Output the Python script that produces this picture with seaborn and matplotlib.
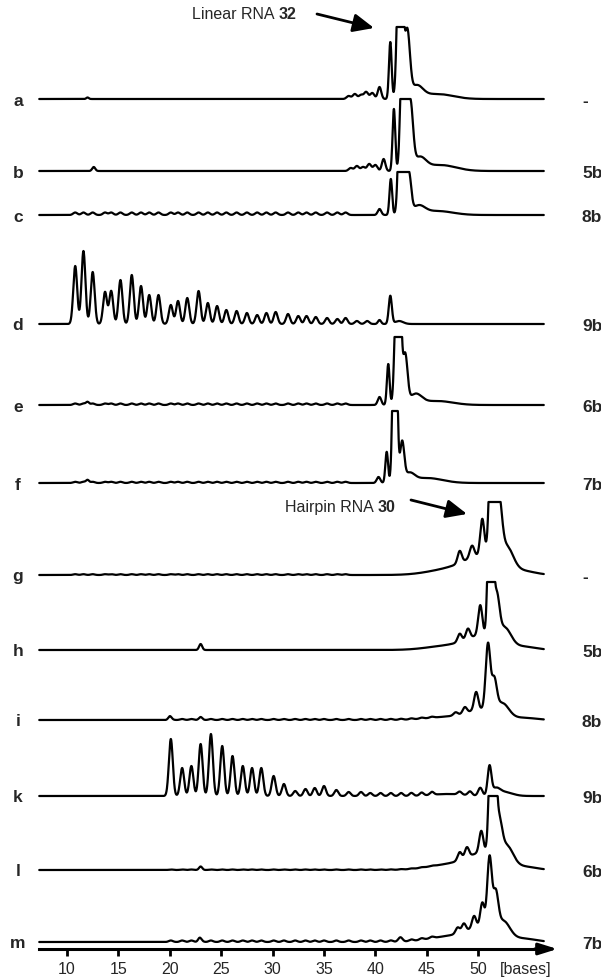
import numpy as np
import pandas as pd
import seaborn as sns
import matplotlib.pyplot as plt

sns.set_theme(style="white")
plt.rcParams['font.family'] = ['Liberation Sans', 'DejaVu Sans']

# ── lanes ────────────────────────────────────────────────────────────────
lanes = ['a', 'b', 'c', 'd', 'e', 'f', 'g', 'h', 'i', 'k', 'l', 'm']
conditions = ['-', '5b', '8b', '9b', '6b', '7b', '-', '5b', '8b', '9b', '6b', '7b']
# vertical offset of each trace (px from top of the page)
offsets = [100, 172, 216, 325, 406, 484, 576, 651, 721, 797, 871, 943]
# detector saturation (flat peak tops), None = not saturated
saturation = [72, 72, 43, None, 68, 72, 73, 68, None, None, 74, None]

x_ticks = [10, 15, 20, 25, 30, 35, 40, 45, 50]

# cleavage ladders (peak position in bases, peak height)
ladder_lin_pos = [10.8, 11.6, 12.5, 13.7, 14.3, 15.2, 16.3, 17.2, 18.0, 18.9,
                  20.1, 20.8, 21.7, 22.8, 23.7, 24.6, 25.5, 26.5, 27.5, 28.5,
                  29.4, 30.3, 31.5, 32.5, 33.3, 34.2, 35.3, 36.3, 37.1]
ladder_lin_hgt = [58, 73, 52, 32, 33, 44, 49, 38, 29, 29,
                  19, 23, 26, 33, 21, 18, 14, 13, 11, 9,
                  11, 12, 10, 8, 8, 7, 6, 5, 6]
ladder_hp_pos = [20.1, 21.2, 22.1, 23.0, 24.0, 25.1, 26.1, 27.1, 28.0, 28.9,
                 30.1, 31.1, 32.2, 33.2, 34.1, 35.0, 36.2, 37.4, 38.6, 39.5,
                 40.5, 41.5, 42.5, 43.5, 44.5, 45.5]
ladder_hp_hgt = [57, 28, 30, 52, 62, 50, 40, 30, 28, 28,
                 20, 12, 5, 7, 8, 10, 6, 4, 4, 3,
                 3, 3, 3, 3, 3, 3]

# small background ripples (height) on each lane
ripple = [0, 0, 2.5, 0, 1.5, 1.2, 0.8, 0, 1.0, 0, 0.5, 1.5]

# product peaks: (position [bases], height, width [bases])
peaks_a = [(12.0, 1.5, 0.12), (37.4, 3, 0.2), (38.0, 5, 0.2), (38.6, 4, 0.2),
           (39.1, 7, 0.2), (39.7, 6, 0.2), (40.4, 12, 0.17), (41.45, 57, 0.13),
           (42.4, 250, 0.22), (43.1, 65, 0.25), (44.0, 12, 0.6), (46.0, 5, 1.5)]
peaks_b = [(12.6, 4, 0.15), (37.6, 3, 0.2), (38.2, 5, 0.2), (38.8, 4, 0.2),
           (39.4, 7, 0.2), (40.0, 6, 0.2), (40.8, 12, 0.17), (41.8, 62, 0.13),
           (42.75, 250, 0.22), (43.4, 65, 0.25), (44.3, 12, 0.6), (46.3, 6, 1.5)]
peaks_c = [(40.4, 6, 0.17), (41.5, 36, 0.13), (42.55, 250, 0.22),
           (43.25, 40, 0.22), (44.2, 8, 0.6), (46.0, 4, 1.5)]
peaks_d = [(38.2, 3, 0.2), (39.2, 3, 0.2), (40.4, 4, 0.15), (41.45, 28, 0.15),
           (42.3, 3, 0.4)]
peaks_e = [(12.0, 3, 0.15), (40.4, 8, 0.17), (41.25, 41, 0.13), (42.2, 250, 0.22),
           (42.9, 48, 0.22), (43.9, 10, 0.6), (46.0, 4, 1.5)]
peaks_f = [(12.0, 3, 0.15), (40.3, 6, 0.17), (41.1, 31, 0.13), (41.9, 250, 0.18),
           (42.6, 38, 0.2), (43.3, 8, 0.5), (45.0, 5, 1.5)]
peaks_g = [(47.0, 5, 2.0), (50.5, 18, 1.8), (48.2, 12, 0.2), (49.4, 12, 0.22),
           (50.4, 37, 0.2), (51.45, 250, 0.26), (52.05, 50, 0.28), (52.8, 20, 0.6),
           (54.5, 3, 1.2)]
peaks_h = [(23.0, 6, 0.15), (47.0, 4, 2.0), (50.5, 14, 1.6), (48.2, 8, 0.2),
           (49.0, 10, 0.2), (50.2, 30, 0.2), (51.2, 250, 0.2), (51.8, 40, 0.26),
           (52.6, 16, 0.6), (54.5, 3, 1.2)]
peaks_i = [(20.0, 3, 0.15), (23.0, 2, 0.15), (47.0, 3, 2.0), (50.5, 10, 1.5),
           (47.8, 3, 0.2), (48.7, 6, 0.2), (49.8, 18, 0.2), (50.95, 65, 0.22),
           (51.55, 30, 0.25), (52.4, 12, 0.6), (54.5, 2, 1.2)]
peaks_k = [(47.0, 2, 1.5), (48.2, 3, 0.2), (49.2, 4, 0.2), (50.2, 8, 0.2),
           (51.1, 28, 0.18), (51.7, 6, 0.4), (52.5, 4, 0.8)]
peaks_l = [(23.0, 3, 0.15), (47.0, 5, 2.0), (50.5, 16, 1.6), (48.2, 8, 0.2),
           (48.9, 10, 0.2), (50.3, 22, 0.2), (51.4, 250, 0.24), (52.05, 32, 0.28),
           (52.8, 18, 0.6), (54.5, 3, 1.2)]
peaks_m = [(22.9, 3, 0.15), (42.4, 3, 0.2), (47.0, 5, 2.0), (50.5, 14, 1.6),
           (48.0, 6, 0.2), (48.6, 8, 0.2), (49.6, 12, 0.2), (50.4, 24, 0.2),
           (51.1, 70, 0.22), (51.7, 35, 0.25), (52.5, 14, 0.6), (54.5, 3, 1.2)]

lane_peaks = [peaks_a, peaks_b, peaks_c, peaks_d, peaks_e, peaks_f,
              peaks_g, peaks_h, peaks_i, peaks_k, peaks_l, peaks_m]

# ── build traces ────────────────────────────────────────────────────────
bases = np.arange(7.3, 56.4, 0.02)


def gauss(pos, h, w):
    return h * np.exp(-0.5 * ((bases - pos) / w) ** 2)


rows = []
for i, lane in enumerate(lanes):
    sig = np.zeros_like(bases)
    for p, h, w in lane_peaks[i]:
        sig += gauss(p, h, w)
    if lane == 'd':
        for p, h in zip(ladder_lin_pos, ladder_lin_hgt):
            sig += gauss(p, h, 0.19)
    elif lane == 'k':
        for p, h in zip(ladder_hp_pos, ladder_hp_hgt):
            sig += gauss(p, h, 0.19)
    elif ripple[i] > 0:
        rpos = ladder_hp_pos if i >= 6 and lane != 'g' else ladder_lin_pos
        for p in rpos:
            sig += gauss(p, ripple[i], 0.2)
    if saturation[i] is not None:
        sig = np.minimum(sig, saturation[i])
    rows.append(pd.DataFrame({'base': bases, 'y': offsets[i] - sig, 'lane': lane}))
df = pd.concat(rows, ignore_index=True)

# ── plot ────────────────────────────────────────────────────────────────
fig = plt.figure(figsize=(6.01, 9.78), dpi=100)
ax = fig.add_axes([0, 0, 1, 1])
sns.lineplot(data=df, x='base', y='y', units='lane', estimator=None,
             color='black', linewidth=1.6, sort=False, ax=ax)

px = 10.28  # pixels per base
x0 = 10 - 67 / px
ax.set_xlim(x0, x0 + 601 / px)
ax.set_ylim(978, 0)
ax.set_xlabel('')
ax.set_ylabel('')
ax.set_yticks([])
for s in ['left', 'right', 'top']:
    ax.spines[s].set_visible(False)
ax.spines['bottom'].set_position(('data', 950))
ax.spines['bottom'].set_bounds(7.3, 56.5)
ax.spines['bottom'].set_linewidth(2.2)
ax.spines['bottom'].set_color('black')
ax.set_xticks(x_ticks)
ax.tick_params(axis='x', direction='out', length=5, width=2, color='black',
               labelsize=11.5, pad=4, bottom=True)
ax.annotate('', xy=(57.7, 950), xytext=(55.5, 950),
            arrowprops=dict(arrowstyle='-|>,head_length=0.8,head_width=0.25',
                            color='black', lw=2.2, shrinkA=0, shrinkB=0,
                            mutation_scale=14))
ax.text(54.6, 962, '[bases]', ha='center', va='top', fontsize=11.5)

# lane letters and conditions
for i, lane in enumerate(lanes):
    ax.text(x0 + 18 / px, offsets[i] + 5.5, lane, ha='center', va='baseline',
            fontsize=12.5, fontweight='bold')
    ax.text(x0 + 582 / px, offsets[i] + 6, conditions[i], ha='left', va='baseline',
            fontsize=12.5, fontweight='bold')

# substrate annotations
for label, num, xend, ytxt, tail, tip in [
        ('Linear RNA ', '32', x0 + 296 / px, 22, (x0 + 317 / px, 15), (x0 + 374 / px, 29)),
        ('Hairpin RNA ', '30', x0 + 395 / px, 515, (x0 + 411 / px, 501), (x0 + 467 / px, 515))]:
    t = ax.text(xend, ytxt, num, ha='right', va='bottom', fontsize=11.5,
                fontweight='bold')
    ax.annotate(label, xy=(0, 0), xycoords=t, ha='right', va='bottom', fontsize=11.5)
    ax.annotate('', xy=tip, xytext=tail,
                arrowprops=dict(arrowstyle='-|>,head_length=0.9,head_width=0.4',
                                color='black', lw=2, shrinkA=0, shrinkB=0,
                                mutation_scale=14))

fig.savefig('out.png', dpi=100)
